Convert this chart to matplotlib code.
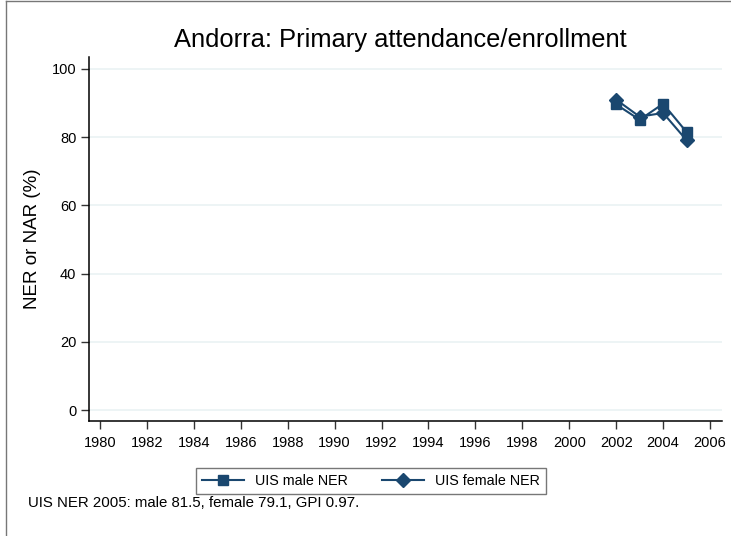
import matplotlib
matplotlib.use("Agg")
import matplotlib.pyplot as plt
from matplotlib.lines import Line2D

plt.rcParams['font.family'] = ['Liberation Sans', 'DejaVu Sans']

years = [2002, 2003, 2004, 2005]
male_ner = [89.6, 85.1, 89.8, 81.5]
female_ner = [91.0, 86.0, 87.1, 79.1]
xticks = list(range(1980, 2007, 2))
yticks = [0, 20, 40, 60, 80, 100]
title = "Andorra: Primary attendance/enrollment"
ylabel = "NER or NAR (%)"
note = "UIS NER 2005: male 81.5, female 79.1, GPI 0.97."

W, H = 731, 536
fig = plt.figure(figsize=(W/100, H/100), dpi=100)
color = '#1a476f'

ax = fig.add_axes([89/W, 1-421/H, (722-89)/W, (421-57)/H])
ax.set_xlim(1979.53, 2006.51)
ax.set_ylim(-3.2, 103.5)

for y in yticks:
    ax.axhline(y, color='#eaf2f3', lw=1.2, zorder=0)

ax.plot(years, male_ner, color=color, lw=1.5, marker='s', ms=7.5, zorder=3)
ax.plot(years, female_ner, color=color, lw=1.5, marker='D', ms=7, zorder=3)

ax.set_xticks(xticks)
ax.set_yticks(yticks)
ax.tick_params(axis='both', labelsize=10.5, length=6, width=1, color='#333333', pad=3)
ax.tick_params(axis='x', pad=4.5)
for s in ['top', 'right']:
    ax.spines[s].set_visible(False)
for s in ['left', 'bottom']:
    ax.spines[s].set_linewidth(1.1)
ax.set_ylabel(ylabel, fontsize=13.5, labelpad=8)

fig.text(400/W, 1-40/H, title, ha='center', va='center', fontsize=18.4)
fig.text(28/W, 1-503/H, note, ha='left', va='center', fontsize=10.8)

handles = [Line2D([], [], color=color, lw=1.5, marker='s', ms=7),
           Line2D([], [], color=color, lw=1.5, marker='D', ms=7)]
leg = fig.legend(handles, ['UIS male NER', 'UIS female NER'], loc='center',
                 bbox_to_anchor=(371/W, 1-481/H), ncol=2, fontsize=10.3,
                 frameon=True, fancybox=False, handlelength=2.9,
                 handletextpad=0.8, columnspacing=2.4, borderpad=0.45,
                 borderaxespad=0)
leg.get_frame().set_edgecolor('#555555')
leg.get_frame().set_linewidth(1.0)

# outer frame (left and top)
fig.add_artist(Line2D([6/W, 6/W], [0, 1-1/H], color='#777777', lw=1, transform=fig.transFigure))
fig.add_artist(Line2D([6/W, 1], [1-1/H, 1-1/H], color='#777777', lw=1, transform=fig.transFigure))

fig.savefig('out.png', dpi=100)
